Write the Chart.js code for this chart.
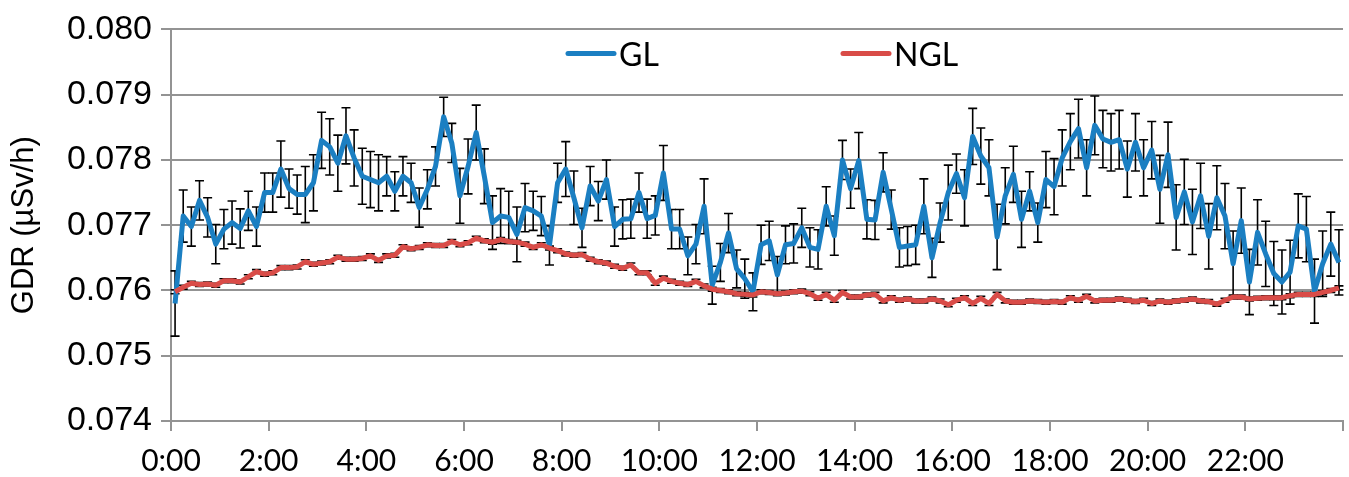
<!DOCTYPE html>
<html>
<head>
<meta charset="utf-8">
<script src="https://cdn.jsdelivr.net/npm/chart.js@4.4.1/dist/chart.umd.min.js"></script>
<style>
  html, body { margin: 0; padding: 0; background: #fff; }
  #wrap { width: 1349px; height: 477px; }
</style>
</head>
<body>
<div id="wrap"><canvas id="myChart" width="1349" height="477"></canvas></div>
<script>
// GDR readings every 10 minutes, 0:00 .. 23:50 (one row = 2 hours)
const glValues = [
  0.07580, 0.07714, 0.07698, 0.07738, 0.07712, 0.07671, 0.07694, 0.07704, 0.07695, 0.07722, 0.07698, 0.07750,
  0.07750, 0.07786, 0.07756, 0.07747, 0.07747, 0.07765, 0.07830, 0.07820, 0.07795, 0.07837, 0.07803, 0.07775,
  0.07770, 0.07765, 0.07775, 0.07752, 0.07775, 0.07765, 0.07727, 0.07755, 0.07790, 0.07866, 0.07826, 0.07745,
  0.07790, 0.07842, 0.07775, 0.07704, 0.07714, 0.07712, 0.07686, 0.07727, 0.07722, 0.07714, 0.07669, 0.07765,
  0.07786, 0.07742, 0.07696, 0.07760, 0.07737, 0.07770, 0.07698, 0.07709, 0.07710, 0.07750, 0.07710, 0.07715,
  0.07780, 0.07694, 0.07694, 0.07653, 0.07671, 0.07729, 0.07608, 0.07643, 0.07688, 0.07633, 0.07618, 0.07598,
  0.07670, 0.07676, 0.07624, 0.07670, 0.07672, 0.07696, 0.07666, 0.07663, 0.07729, 0.07684, 0.07800, 0.07756,
  0.07799, 0.07709, 0.07708, 0.07781, 0.07724, 0.07666, 0.07668, 0.07670, 0.07729, 0.07650, 0.07704, 0.07750,
  0.07779, 0.07742, 0.07836, 0.07806, 0.07788, 0.07682, 0.07745, 0.07778, 0.07709, 0.07752, 0.07704, 0.07770,
  0.07759, 0.07803, 0.07828, 0.07848, 0.07788, 0.07853, 0.07832, 0.07827, 0.07831, 0.07786, 0.07827, 0.07788,
  0.07815, 0.07755, 0.07808, 0.07712, 0.07751, 0.07705, 0.07745, 0.07683, 0.07742, 0.07714, 0.07641, 0.07707,
  0.07613, 0.07689, 0.07656, 0.07626, 0.07613, 0.07628, 0.07699, 0.07694, 0.07599, 0.07641, 0.07671, 0.07643,
];
const glErrors = [
  0.0005, 0.0004, 0.0003, 0.0003, 0.0003, 0.0003, 0.0003, 0.00033, 0.0003, 0.0003, 0.0003, 0.0003,
  0.0003, 0.00043, 0.0003, 0.0003, 0.00043, 0.00043, 0.00043, 0.00043, 0.00043, 0.00043, 0.00043, 0.00043,
  0.00043, 0.00043, 0.0003, 0.0003, 0.0003, 0.0003, 0.0003, 0.0003, 0.0003, 0.0003, 0.0003, 0.00042,
  0.00042, 0.00042, 0.00042, 0.00041, 0.00042, 0.0004, 0.00042, 0.00037, 0.0003, 0.0003, 0.0003, 0.0003,
  0.00042, 0.00041, 0.0003, 0.0003, 0.0003, 0.0003, 0.0003, 0.0003, 0.0003, 0.0003, 0.0003, 0.0003,
  0.00042, 0.0003, 0.0003, 0.00029, 0.0003, 0.00042, 0.00029, 0.00029, 0.0003, 0.00029, 0.0003, 0.00029,
  0.0003, 0.0003, 0.00028, 0.00029, 0.0003, 0.0003, 0.0003, 0.0003, 0.0003, 0.0003, 0.0003, 0.0003,
  0.00043, 0.0003, 0.0003, 0.0003, 0.0003, 0.0003, 0.0003, 0.0003, 0.00042, 0.0003, 0.0003, 0.00042,
  0.0003, 0.00043, 0.00043, 0.00043, 0.00043, 0.0005, 0.00043, 0.00043, 0.00043, 0.0003, 0.0003, 0.00043,
  0.00043, 0.00043, 0.00043, 0.00045, 0.00043, 0.00045, 0.00044, 0.00044, 0.00045, 0.00043, 0.00044, 0.00043,
  0.00044, 0.00052, 0.0005, 0.0005, 0.0005, 0.0005, 0.0005, 0.0005, 0.00049, 0.0005, 0.0005, 0.0005,
  0.0005, 0.0005, 0.0005, 0.00049, 0.00049, 0.00049, 0.00049, 0.0005, 0.00049, 0.0005, 0.00049, 0.0005,
];
const nglValues = [
  0.07598, 0.07605, 0.07611, 0.07609, 0.07610, 0.07608, 0.07615, 0.07615, 0.07613, 0.07621, 0.07629, 0.07625,
  0.07627, 0.07635, 0.07635, 0.07636, 0.07644, 0.07640, 0.07642, 0.07644, 0.07651, 0.07648, 0.07648, 0.07649,
  0.07653, 0.07646, 0.07653, 0.07654, 0.07667, 0.07664, 0.07666, 0.07670, 0.07669, 0.07669, 0.07675, 0.07670,
  0.07673, 0.07680, 0.07676, 0.07674, 0.07678, 0.07675, 0.07674, 0.07671, 0.07666, 0.07670, 0.07665, 0.07661,
  0.07656, 0.07654, 0.07655, 0.07648, 0.07644, 0.07642, 0.07637, 0.07634, 0.07639, 0.07627, 0.07627, 0.07611,
  0.07619, 0.07614, 0.07611, 0.07609, 0.07614, 0.07607, 0.07602, 0.07600, 0.07598, 0.07595, 0.07594, 0.07593,
  0.07598, 0.07597, 0.07595, 0.07596, 0.07598, 0.07599, 0.07595, 0.07588, 0.07594, 0.07585, 0.07597, 0.07590,
  0.07590, 0.07593, 0.07594, 0.07584, 0.07589, 0.07585, 0.07587, 0.07584, 0.07584, 0.07587, 0.07584, 0.07578,
  0.07585, 0.07589, 0.07580, 0.07588, 0.07580, 0.07594, 0.07584, 0.07582, 0.07582, 0.07584, 0.07583, 0.07582,
  0.07583, 0.07582, 0.07589, 0.07585, 0.07591, 0.07584, 0.07585, 0.07585, 0.07587, 0.07585, 0.07583, 0.07585,
  0.07580, 0.07584, 0.07582, 0.07584, 0.07585, 0.07587, 0.07584, 0.07583, 0.07579, 0.07585, 0.07590, 0.07590,
  0.07587, 0.07588, 0.07589, 0.07589, 0.07589, 0.07592, 0.07594, 0.07594, 0.07594, 0.07597, 0.07600, 0.07604,
];
const nglError = 0.00003; // NGL error bars are tiny, mostly hidden by the line
const seriesNames = ['GL', 'NGL'];
const yTicks = [0.074, 0.075, 0.076, 0.077, 0.078, 0.079, 0.080];
const xTickHours = [0, 2, 4, 6, 8, 10, 12, 14, 16, 18, 20, 22];

const colors = {
  gl: '#1b7fc2',
  ngl: '#d94c48',
  grid: '#939393',
};
const stepMinutes = 10;
// points sit in the middle of each 10 minute slot (like excel "between tick marks")
const toPoints = (values) => values.map((v, i) => ({ x: i * stepMinutes + stepMinutes / 2, y: v }));

// draws vertical error bars with caps, behind the lines
const errorBars = {
  id: 'errorBars',
  beforeDatasetsDraw(chart) {
    const { ctx } = chart;
    const xs = chart.scales.x;
    const ys = chart.scales.y;
    ctx.save();
    ctx.strokeStyle = '#000';
    ctx.lineWidth = 1.6;
    chart.data.datasets.forEach((ds) => {
      ds.data.forEach((p, i) => {
        const err = Array.isArray(ds.errors) ? ds.errors[i] : ds.errors;
        const px = xs.getPixelForValue(p.x);
        const top = ys.getPixelForValue(p.y + err);
        const bot = ys.getPixelForValue(p.y - err);
        ctx.beginPath();
        ctx.moveTo(px, top);
        ctx.lineTo(px, bot);
        ctx.moveTo(px - 4.5, top);
        ctx.lineTo(px + 4.5, top);
        ctx.moveTo(px - 4.5, bot);
        ctx.lineTo(px + 4.5, bot);
        ctx.stroke();
      });
    });
    ctx.restore();
  },
};

// legend drawn inside the plot, like the original
const lineLegend = {
  id: 'lineLegend',
  afterDatasetsDraw(chart) {
    const { ctx, chartArea } = chart;
    const mid = (chartArea.left + chartArea.right) / 2;
    const y = chartArea.top + 24;
    const items = [
      { name: seriesNames[0], color: colors.gl, x0: mid - 189 },
      { name: seriesNames[1], color: colors.ngl, x0: mid + 86 },
    ];
    ctx.save();
    ctx.lineWidth = 5;
    ctx.lineCap = 'round';
    ctx.font = '32px Lato';
    ctx.textBaseline = 'middle';
    ctx.fillStyle = '#000';
    items.forEach((it) => {
      ctx.strokeStyle = it.color;
      ctx.beginPath();
      ctx.moveTo(it.x0, y);
      ctx.lineTo(it.x0 + 46, y);
      ctx.stroke();
      ctx.fillText(it.name, it.x0 + 51, y + 2);
    });
    ctx.restore();
  },
};

const ctx = document.getElementById('myChart').getContext('2d');
const myChart = new Chart(ctx, {
  type: 'line',
  data: {
    datasets: [
      {
        label: seriesNames[0],
        data: toPoints(glValues),
        errors: glErrors,
        borderColor: colors.gl,
        borderWidth: 5,
        borderJoinStyle: 'round',
        pointRadius: 0,
        order: 1,
      },
      {
        label: seriesNames[1],
        data: toPoints(nglValues),
        errors: nglError,
        borderColor: colors.ngl,
        borderWidth: 5,
        borderJoinStyle: 'round',
        pointRadius: 0,
        order: 0,
      },
    ],
  },
  options: {
    responsive: false,
    animation: false,
    devicePixelRatio: 1,
    layout: { padding: { top: 24, right: 6, left: 0, bottom: 0 } },
    plugins: {
      legend: { display: false },
      tooltip: { enabled: false },
    },
    scales: {
      x: {
        type: 'linear',
        min: 0,
        max: 1440,
        afterBuildTicks: (scale) => {
          scale.ticks = xTickHours.concat([24]).map((h) => ({ value: h * 60 }));
        },
        afterFit: (scale) => {
          scale.height = 56;
          scale.paddingLeft = 0;
          scale.paddingRight = 0;
        },
        ticks: {
          autoSkip: false,
          maxRotation: 0,
          padding: 12,
          color: '#000',
          font: { family: 'Lato', size: 30 },
          callback: (v) => (v < 1440 ? `${v / 60}:00` : ''),
        },
        grid: {
          drawOnChartArea: false,
          drawTicks: true,
          tickLength: 10,
          color: colors.grid,
          lineWidth: 2,
        },
        border: { color: colors.grid, width: 2 },
      },
      y: {
        min: 0.074,
        max: 0.08,
        afterBuildTicks: (scale) => {
          scale.ticks = yTicks.map((v) => ({ value: v }));
        },
        afterFit: (scale) => {
          scale.width = 171;
        },
        ticks: {
          padding: 9,
          color: '#000',
          font: { family: 'Liberation Sans', size: 34 },
          callback: (v) => v.toFixed(3),
        },
        grid: {
          color: colors.grid,
          lineWidth: 2,
          tickLength: 10,
        },
        border: { color: colors.grid, width: 2 },
        title: {
          display: true,
          text: 'GDR (µSv/h)',
          color: '#000',
          font: { family: 'Liberation Sans', size: 31 },
          padding: { top: 6, bottom: 0 },
        },
      },
    },
  },
  plugins: [errorBars, lineLegend],
});
</script>
</body>
</html>
